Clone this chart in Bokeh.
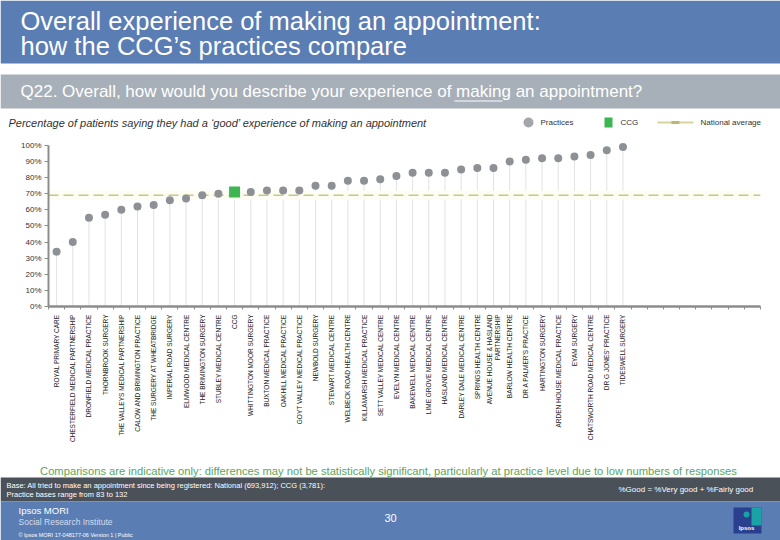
import math
from bokeh.plotting import figure
from bokeh.models import Range1d, FixedTicker, PrintfTickFormatter
from bokeh.layouts import column
from bokeh.embed import file_html
from bokeh.resources import INLINE
from bokeh.core.properties import value

# ---------------- data ----------------
TITLE_LINES = ["Overall experience of making an appointment:",
               "how the CCG\u2019s practices compare"]
QUESTION = "Q22. Overall, how would you describe your experience of making an appointment?"
SUBTITLE = "Percentage of patients saying they had  a \u2018good\u2019 experience of making an appointment"
NOTE = ("Comparisons are indicative only: differences may not be statistically significant, "
        "particularly at practice level due to low numbers of responses")
BASE_LINES = ["Base: All tried to make an appointment since being registered: National (693,912); CCG (3,781):",
              "Practice bases range from 83 to 132"]
DEFINITION = "%Good = %Very good + %Fairly good"
LEGEND_NAMES = ["Practices", "CCG", "National average"]

labels = [
    "ROYAL PRIMARY CARE",
    "CHESTERFIELD MEDICAL PARTNERSHIP",
    "DRONFIELD MEDICAL PRACTICE",
    "THORNBROOK SURGERY",
    "THE VALLEYS MEDICAL PARTNERSHIP",
    "CALOW AND BRIMINGTON PRACTICE",
    "THE SURGERY AT WHEATBRIDGE",
    "IMPERIAL ROAD SURGERY",
    "ELMWOOD MEDICAL CENTRE",
    "THE BRIMINGTON SURGERY",
    "STUBLEY MEDICAL CENTRE",
    "CCG",
    "WHITTINGTON MOOR SURGERY",
    "BUXTON MEDICAL PRACTICE",
    "OAKHILL MEDICAL PRACTICE",
    "GOYT VALLEY MEDICAL PRACTICE",
    "NEWBOLD SURGERY",
    "STEWART MEDICAL CENTRE",
    "WELBECK ROAD HEALTH CENTRE",
    "KILLAMARSH MEDICAL PRACTICE",
    "SETT VALLEY MEDICAL CENTRE",
    "EVELYN MEDICAL CENTRE",
    "BAKEWELL MEDICAL CENTRE",
    "LIME GROVE MEDICAL CENTRE",
    "HASLAND MEDICAL CENTRE",
    "DARLEY DALE MEDICAL CENTRE",
    "SPRINGS HEALTH CENTRE",
    "AVENUE HOUSE & HASLAND\nPARTNERSHIP",
    "BARLOW HEALTH CENTRE",
    "DR A PALMER'S PRACTICE",
    "HARTINGTON SURGERY",
    "ARDEN HOUSE MEDICAL PRACTICE",
    "EYAM SURGERY",
    "CHATSWORTH ROAD MEDICAL CENTRE",
    "DR G JONES' PRACTICE",
    "TIDESWELL SURGERY",
]
values = [34, 40, 55, 57, 60, 62, 63, 66, 67, 69, 70, 71, 71, 72, 72, 72, 75, 75,
          78, 78, 79, 81, 83, 83, 83, 85, 86, 86, 90, 91, 92, 92, 93, 94, 97, 99]
CCG_LABEL = "CCG"
NATIONAL = 69
Y_TICKS = [0, 10, 20, 30, 40, 50, 60, 70, 80, 90, 100]
N_SLOTS = 44

# ---------------- style ----------------
W = 780
FONT = "Liberation Sans"
BLUE = "#5a7db4"
GREY_BAR = "#a7afb9"
DARK_BAR = "#4b5159"
POINT = "#8d9196"
GREEN = "#3db553"
NAT = "#c8c88a"
AXIS = "#8c8c8c"


def deco(h):
    f = figure(width=W, height=h, x_range=Range1d(0, W), y_range=Range1d(h, 0),
               output_backend="svg", toolbar_location=None, min_border=0,
               x_axis_location=None, y_axis_location=None, outline_line_color=None,
               frame_align=False)
    f.grid.visible = False
    f.background_fill_color = "white"
    return f


def txt(f, x, y, s, size, color, align="left", style="normal", base="middle"):
    f.text(x=[x], y=[y], text=[s], text_font=value(FONT), text_font_size=size,
           text_color=color, text_align=align, text_baseline=base, text_font_style=style)


# ---------------- header ----------------
head = deco(138)
head.quad(left=[0], right=[W], top=[0], bottom=[63], color=BLUE, line_color=None)
txt(head, 20, 20, TITLE_LINES[0], "25.5px", "white")
txt(head, 20, 45, TITLE_LINES[1], "25.5px", "white")
head.quad(left=[0], right=[W], top=[74], bottom=[108], color=GREY_BAR, line_color=None)
txt(head, 20, 91, QUESTION, "17px", "white")
head.segment(x0=[454], y0=[100.5], x1=[502], y1=[100.5], line_color="white", line_width=1.2)
txt(head, 8, 122, SUBTITLE, "11px", "#333333", style="italic")
# legend
head.scatter(x=[528], y=[122], size=10, color="#a3a7ab", line_color=None)
txt(head, 540, 122, LEGEND_NAMES[0], "8px", "#333333")
head.quad(left=[604], right=[612], top=[117], bottom=[127], color=GREEN, line_color=None)
txt(head, 620, 122, LEGEND_NAMES[1], "8px", "#333333")
head.segment(x0=[657], y0=[122], x1=[693], y1=[122], line_color="#d6d69a", line_width=2)
head.quad(left=[671], right=[679], top=[120.5], bottom=[123.5], color="#b9b96e", line_color=None)
txt(head, 700, 122, LEGEND_NAMES[2], "8px", "#333333")

# ---------------- chart ----------------
n = len(labels)
xs = list(range(n))
x0, x1 = -0.5, N_SLOTS - 0.5
p = figure(width=W, height=324, x_range=Range1d(x0, x1), y_range=Range1d(0, 103),
           output_backend="svg", toolbar_location=None,
           min_border_left=48, min_border_right=20, min_border_top=2, min_border_bottom=156,
           outline_line_color=None, frame_align=False)
p.grid.visible = False

p.segment(x0=xs, y0=[0] * n, x1=xs, y1=values, line_color="#e2e2e2", line_width=1)
p.segment(x0=[x0], y0=[NATIONAL], x1=[x1], y1=[NATIONAL], line_color="#fdfdf4", line_width=9)
p.segment(x0=[x0], y0=[NATIONAL], x1=[x1], y1=[NATIONAL], line_color=NAT, line_width=1.5,
          line_dash="10 5")

px = [x for x, l in zip(xs, labels) if l != CCG_LABEL]
py = [v for v, l in zip(values, labels) if l != CCG_LABEL]
cx = [x for x, l in zip(xs, labels) if l == CCG_LABEL]
cy = [v for v, l in zip(values, labels) if l == CCG_LABEL]
p.scatter(x=px, y=py, size=8, color=POINT, line_color=None)
p.scatter(x=cx, y=cy, size=11, marker="square", color=GREEN, line_color=None)

ya = p.yaxis[0]
ya.ticker = FixedTicker(ticks=Y_TICKS)
ya.formatter = PrintfTickFormatter(format="%d%%")
ya.bounds = (0, 100)
ya.axis_line_color = AXIS
ya.axis_line_width = 2
ya.major_tick_line_color = AXIS
ya.major_tick_out = 4
ya.major_tick_in = 0
ya.minor_tick_line_color = None
ya.major_label_text_font = FONT
ya.major_label_text_font_size = "8px"
ya.major_label_text_color = "#333333"
ya.major_label_standoff = 3

xa = p.xaxis[0]
xa.ticker = FixedTicker(ticks=xs, minor_ticks=[k - 0.5 for k in range(N_SLOTS + 1)])
xa.major_label_overrides = {i: l for i, l in enumerate(labels)}
xa.major_label_orientation = math.pi / 2
xa.axis_line_color = AXIS
xa.axis_line_width = 2.5
xa.major_tick_line_color = None
xa.major_tick_out = 0
xa.major_tick_in = 0
xa.minor_tick_line_color = AXIS
xa.minor_tick_out = 3
xa.minor_tick_in = 0
xa.major_label_text_font = FONT
xa.major_label_text_font_size = "6.5px"
xa.major_label_text_color = "#222222"
xa.major_label_standoff = 5

# ---------------- footer ----------------
foot = deco(78)
txt(foot, 388, 8, NOTE, "11.2px", "#5aa55e", align="center")
foot.quad(left=[0], right=[W], top=[15], bottom=[39], color=DARK_BAR, line_color=None)
txt(foot, 6, 23, BASE_LINES[0], "7.5px", "white")
txt(foot, 6, 32, BASE_LINES[1], "7.5px", "white")
txt(foot, 618, 27, DEFINITION, "8px", "white")
foot.quad(left=[0], right=[W], top=[39], bottom=[78], color=BLUE, line_color=None)
txt(foot, 18, 48, "Ipsos MORI", "9.5px", "white")
txt(foot, 18, 59, "Social Research Institute", "8.5px", "#d3dcec")
txt(foot, 18, 72, "\u00a9 Ipsos MORI     17-048177-06 Version 1 | Public", "5.5px", "white")
txt(foot, 390, 55, "30", "11px", "white", align="center")
foot.quad(left=[733], right=[761], top=[45], bottom=[71], color="#2b3f8f", line_color=None)
foot.quad(left=[751], right=[761], top=[45], bottom=[63], color="#19a3a6", line_color=None)
foot.scatter(x=[746], y=[52], size=6, color="#19a3a6", line_color=None)
txt(foot, 746, 65, "Ipsos", "6px", "white", align="center", style="bold")

layout = column(head, p, foot, spacing=0)
open("out.html", "w").write(file_html(layout, INLINE))
